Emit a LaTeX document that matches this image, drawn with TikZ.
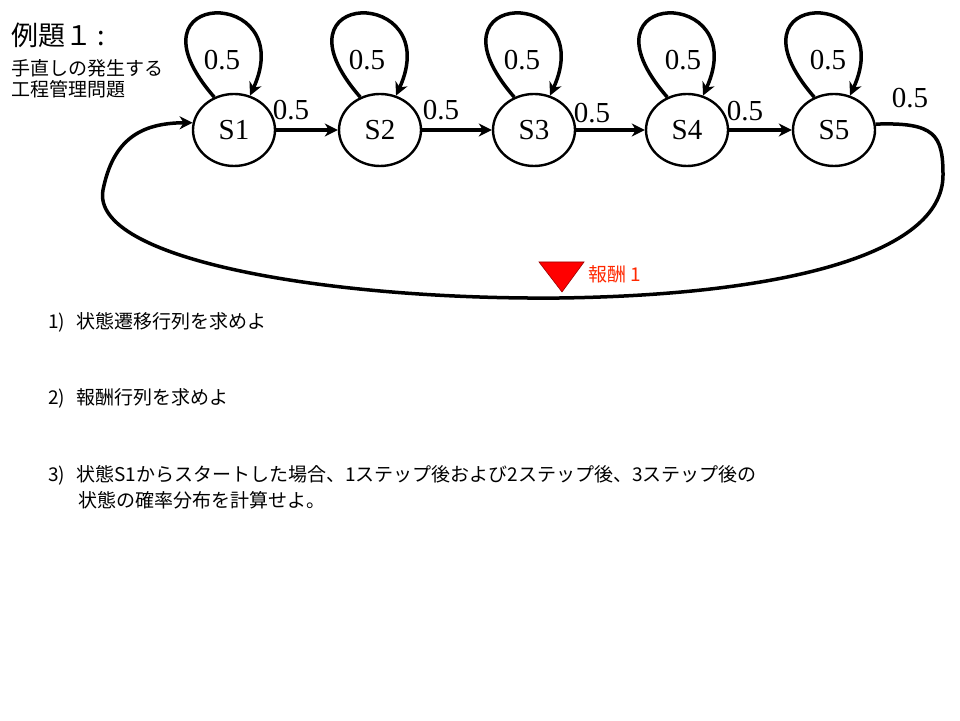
\documentclass[tikz,border=0pt]{standalone}
\usepackage{fontspec}
\setmainfont{Liberation Serif}
\newfontfamily\jp{Noto Sans CJK JP}
\usetikzlibrary{shapes.geometric,arrows.meta}
\definecolor{rewardred}{RGB}{255,40,0}
\begin{document}
\begin{tikzpicture}[x=1pt,y=1pt,
  state/.style={ellipse,draw,line width=2.4pt,minimum width=82pt,minimum height=72pt,inner sep=0pt,font=\fontsize{29}{34}\selectfont},
  num/.style={inner sep=0pt,font=\fontsize{29}{34}\selectfont},
  conn/.style={line width=3.5pt,-{Stealth[length=13pt,width=13pt,inset=4pt]}},
  jptext/.style={inner sep=0pt,anchor=west,font=\jp\fontsize{19}{23}\selectfont},
  redlabel/.style={inner sep=0pt,text=rewardred,font=\jp\fontsize{19}{23}\selectfont}]
\useasboundingbox (0,0) rectangle (960,720);
\fill[white] (0,0) rectangle (960,720);
% states
\node[state] (s1) at (234,590) {S1};
\node[state] (s2) at (380,590) {S2};
\node[state] (s3) at (534,590) {S3};
\node[state] (s4) at (687,590) {S4};
\node[state] (s5) at (834,590) {S5};
% forward transitions
\draw[conn] (s1.east) -- (s2.west);
\draw[conn] (s2.east) -- (s3.west);
\draw[conn] (s3.east) -- (s4.west);
\draw[conn] (s4.east) -- (s5.west);
% self loops
\foreach \s in {s1,s2,s3,s4,s5}{
  \draw[conn] (\s.121) .. controls +(-96,110) and +(50,110) .. (\s.65);
}
% return arc
\coordinate (r1) at (943,545);
\coordinate (r2) at (560,422);
\coordinate (r3) at (103,530);
\draw[conn] (s5.8) .. controls (935,598) and (943,585) .. (r1)
  .. controls (943,465) and (780,425) .. (r2)
  .. controls (330,420) and (90,460) .. (r3)
  .. controls (113,580) and (140,597) .. (s1.170);
% labels
\node[num] (l1) at (222,660) {0.5};
\node[num] (l2) at (367,660) {0.5};
\node[num] (l3) at (522,660) {0.5};
\node[num] (l4) at (683,660) {0.5};
\node[num] (l5) at (828,660) {0.5};
\node[num] (e1) at (291,610) {0.5};
\node[num] (e2) at (441,610) {0.5};
\node[num] (e3) at (592,607) {0.5};
\node[num] (e4) at (745,609) {0.5};
\node[num] (e5) at (910,622) {0.5};
% reward marker
\fill[red,draw=red!60!black,line width=0.6pt] (539,458) -- (584,458) -- (562,428) -- cycle;
\node[redlabel,anchor=west] (rw) at (588,446) {報酬 1};
% title
\node[inner sep=0pt,anchor=west,font=\jp\fontsize{27}{32}\selectfont] (title) at (11,685) {例題１\hspace{5pt}:};
\node[jptext] (sub1) at (11,652) {手直しの発生する};
\node[jptext] (sub2) at (11,631) {工程管理問題};
% questions
\node[jptext] (q1) at (48,398) {1)\hspace{11pt}状態遷移行列を求めよ};
\node[jptext] (q2) at (48,322) {2)\hspace{11pt}報酬行列を求めよ};
\node[jptext] (q3) at (48,245) {3)\hspace{11pt}状態S1からスタートした場合、1ステップ後および2ステップ後、3ステップ後の};
\node[jptext] (q3b) at (78,220) {状態の確率分布を計算せよ。};
\end{tikzpicture}
\end{document}
